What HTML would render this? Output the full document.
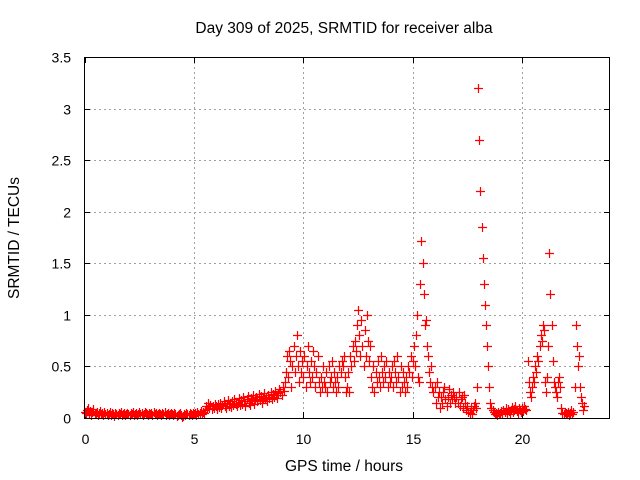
<!DOCTYPE html>
<html><head><meta charset="utf-8"><style>
html,body{margin:0;padding:0;background:#fff;}
svg{display:block;font-family:"Liberation Sans",sans-serif;}
</style></head><body>
<svg id="chart" width="640" height="480" viewBox="0 0 640 480" xmlns="http://www.w3.org/2000/svg">
<rect width="640" height="480" fill="#fff"/>
<g id="grid"></g>
<g id="axes"></g>
<g id="marks"></g>
<rect x="84.5" y="57.5" width="525" height="361" fill="none" stroke="#000" stroke-width="1"/>
<text x="344" y="33" font-size="15.5" text-anchor="middle">Day 309 of 2025, SRMTID for receiver alba</text>
<text x="344" y="471" font-size="15.5" text-anchor="middle">GPS time / hours</text>
<text x="0" y="0" font-size="15.5" text-anchor="middle" transform="translate(19,238) rotate(-90)">SRMTID / TECUs</text>
</svg>
<script>
const xTicks=[0,5,10,15,20];
const yTicks=[0,0.5,1,1.5,2,2.5,3,3.5];
const yTickLabels=["0","0.5","1","1.5","2","2.5","3","3.5"];
const dt=0.05;
const values=[
.06,.05,.08,.1,.04,.07,.03,.06,.09,.05,.04,.06,.03,.05,.07,.04,.05,.03,.06,.04,
.05,.03,.04,.06,.03,.05,.04,.02,.05,.04,.03,.05,.04,.06,.03,.04,.05,.03,.04,.05,
.04,.03,.05,.04,.06,.03,.04,.05,.03,.04,.06,.04,.05,.03,.04,.06,.05,.04,.03,.05,
.04,.05,.03,.06,.04,.05,.03,.04,.05,.04,.03,.05,.04,.06,.03,.04,.05,.03,.04,.05,
.04,.03,.05,.04,.02,.03,.04,.05,.03,.01,.02,.04,.03,.05,.04,.03,.05,.04,.03,.05,
.04,.05,.03,.06,.04,.05,.07,.04,.06,.05,.08,.12,.09,.15,.1,.13,.09,.12,.1,.14,
.12,.09,.14,.11,.15,.1,.13,.16,.12,.1,.14,.17,.12,.15,.11,.16,.13,.18,.14,.12,
.15,.19,.13,.17,.14,.2,.16,.12,.18,.21,.15,.13,.19,.17,.22,.14,.18,.2,.16,.23,
.17,.21,.15,.19,.24,.18,.2,.16,.22,.19,.25,.18,.23,.2,.26,.22,.19,.24,.28,.25,
.22,.3,.26,.35,.45,.6,.4,.65,.55,.3,.5,.7,.45,.6,.8,.5,.35,.65,.45,.55,
.4,.6,.3,.5,.7,.45,.35,.55,.4,.65,.5,.3,.45,.6,.35,.25,.4,.3,.5,.35,
.3,.45,.25,.5,.35,.4,.55,.3,.45,.35,.25,.4,.3,.5,.45,.55,.5,.6,.4,.25,
.3,.45,.25,.6,.5,.7,.55,.75,.65,.9,1.05,.8,.6,.95,.7,.5,.85,.6,1.0,.75,
.55,.7,.4,.3,.5,.25,.45,.35,.55,.4,.3,.6,.45,.35,.5,.4,.55,.3,.45,.35,
.4,.5,.3,.55,.45,.35,.6,.4,.25,.5,.3,.45,.35,.25,.4,.3,.5,.45,.6,.4,
.55,.7,.5,.8,1.0,.4,.35,1.3,1.72,1.5,1.2,.9,.95,.7,.6,.45,.35,.5,.3,.25,
.3,.15,.35,.2,.25,.1,.2,.15,.25,.3,.18,.12,.2,.28,.15,.22,.18,.25,.2,.15,
.2,.15,.25,.12,.18,.2,.1,.22,.15,.08,.12,.06,.05,.1,.04,.08,.12,.15,.1,.3,
3.2,2.7,2.2,1.85,1.55,1.3,1.1,.9,.7,.5,.3,.15,.1,.08,.06,.04,.05,.03,.06,.04,
.05,.07,.04,.08,.06,.1,.05,.09,.07,.04,.08,.11,.06,.09,.12,.07,.05,.1,.08,.06,
.1,.07,.12,.09,.08,.55,.35,.25,.2,.3,.4,.35,.5,.45,.6,.55,.7,.8,.75,.9,
.85,.35,.25,.4,.7,1.6,1.2,.9,.55,.35,.3,.25,.2,.35,.4,.3,.1,.05,.04,.06,
.05,.04,.06,.03,.05,.08,.04,.06,.3,.9,.7,.5,.6,.3,.2,.15,.08,.12
];
const X0=84.7,X1=609.5,XMAX=24,Y0=418,Y1=57,YMAX=3.5;
function xs(t){return X0+(X1-X0)*t/XMAX;}
function ys(v){return Y0-(Y0-Y1)*v/YMAX;}
const NS="http://www.w3.org/2000/svg";
function mk(tag,attrs,parent){const e=document.createElementNS(NS,tag);for(const k in attrs)e.setAttribute(k,attrs[k]);parent.appendChild(e);return e;}
const grid=document.getElementById('grid'),axes=document.getElementById('axes'),marks=document.getElementById('marks');
xTicks.forEach(t=>{
  const x=Math.round(xs(t))+0.5;
  if(t>0){const g=mk('line',{x1:x,x2:x,y1:57,y2:418,stroke:'#a0a0a0','stroke-dasharray':'2,3'},grid);
  
  }
  mk('line',{x1:x,x2:x,y1:418,y2:412,stroke:'#000'},axes);
  mk('line',{x1:x,x2:x,y1:57,y2:63,stroke:'#000'},axes);
  const l=mk('text',{x:x,y:444,'font-size':'14','text-anchor':'middle'},axes);
  l.textContent=String(t);
  
  
});
yTicks.forEach((v,i)=>{
  const y=Math.round(ys(v))+0.5;
  if(v>0&&v<YMAX){const g=mk('line',{x1:84,x2:610,y1:y,y2:y,stroke:'#a0a0a0','stroke-dasharray':'2,3'},grid);
  
  }
  mk('line',{x1:84,x2:90,y1:y,y2:y,stroke:'#000'},axes);
  mk('line',{x1:604,x2:610,y1:y,y2:y,stroke:'#000'},axes);
  const l=mk('text',{x:71,y:y+5,'font-size':'14','text-anchor':'end'},axes);
  l.textContent=yTickLabels[i];
  
  
});
let d='';
values.forEach((v,i)=>{
  const x=Math.round(xs(i*dt)),y=Math.round(ys(v));
  d+='M'+(x-4)+' '+(y+0.5)+'h9M'+(x+0.5)+' '+(y-4)+'v9';
});
const p=mk('path',{d:d,stroke:'#ff0000','stroke-width':'1.2',fill:'none'},marks);


</script>
</body></html>
